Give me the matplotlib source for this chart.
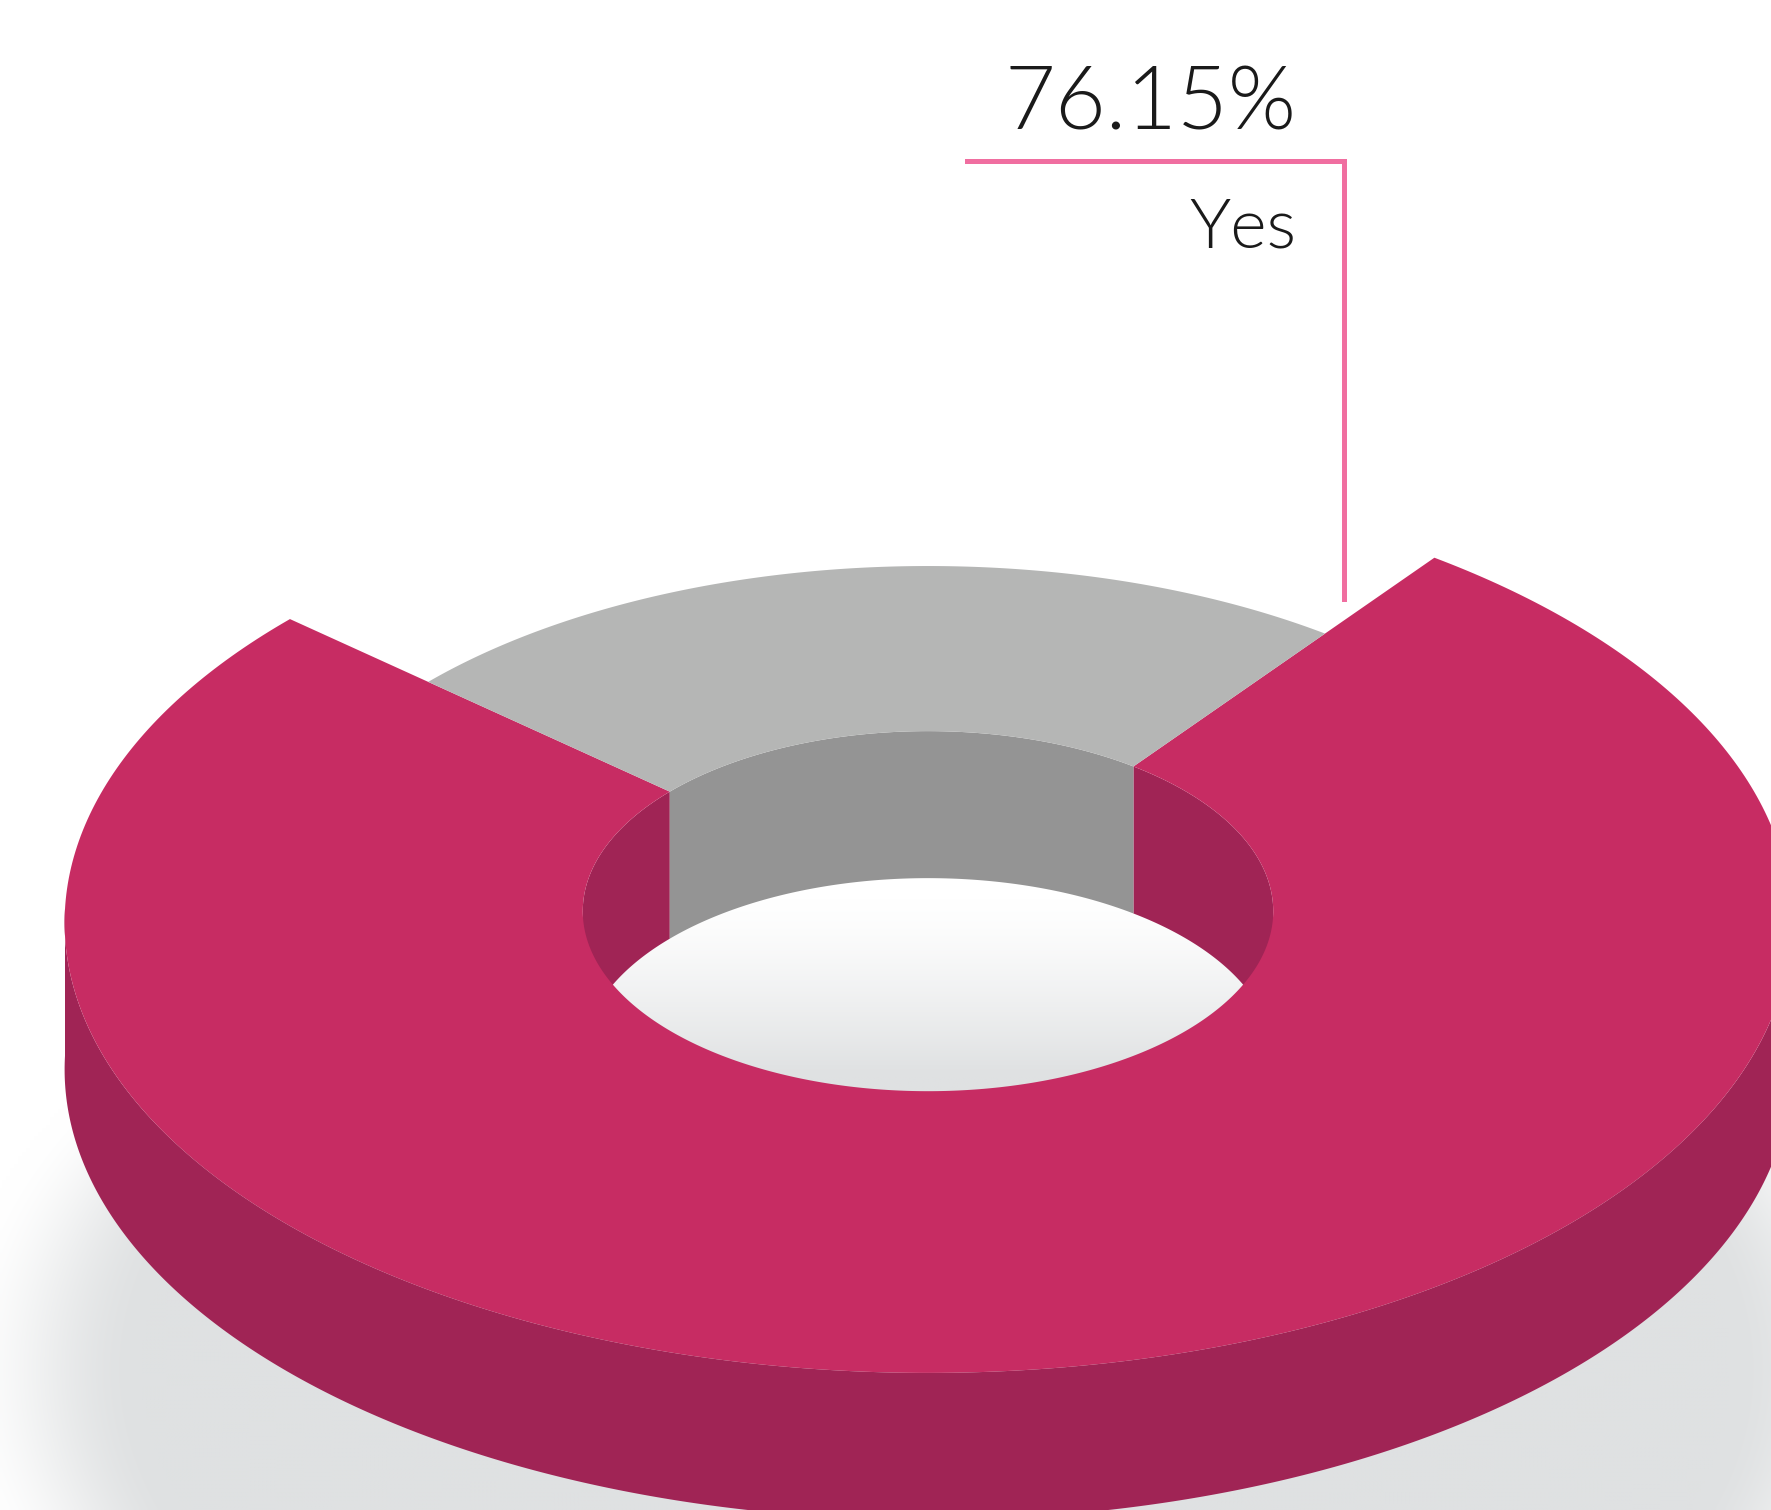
import numpy as np
import matplotlib.pyplot as plt
from matplotlib.patches import Polygon

# data
labels = ['Yes', 'No']
shares = [76.15, 23.85]

top_colors = ['#c72c63', '#b5b6b5']
side_colors = ['#a02455', '#949494']

# canvas / view settings (pixels)
W, H = 1771, 1510
cx, cy = 928, 909
half_w, half_h = 863, 450
persp = 0.03
depth = 147
r_inner = 0.40
r_outer = [1.0, 0.78]
gap_center = 96.0


def proj(r, deg, drop=0.0):
    t = np.radians(deg)
    w = 1 + persp * r * np.sin(t)
    return cx + half_w * r * np.cos(t) / w, cy - half_h * r * np.sin(t) / w + drop


def arc(r, a0, a1, drop=0.0, n=400):
    th = np.linspace(a0, a1, n)
    x, y = proj(r, th, drop)
    return np.column_stack([x, y])


def overlap(a0, a1, lo, hi):
    out = []
    for off in (-360, 0, 360):
        s, e = max(a0 + off, lo), min(a1 + off, hi)
        if s < e:
            out.append((s, e))
    return out


spans = [s / sum(shares) * 360 for s in shares]
no_start = gap_center - spans[1] / 2
angles = [(no_start + spans[1], no_start + 360), (no_start, no_start + spans[1])]

fig = plt.figure(figsize=(W / 100, H / 100), dpi=100)
ax = fig.add_axes([0, 0, 1, 1])

# soft floor shadow
yy, xx = np.mgrid[0:H:4, 0:W:4]
d = np.sqrt(((xx - 935) / 960.0) ** 2 + ((yy - 1370) / 540.0) ** 2)
a = np.clip((1.03 - d) / 0.2, 0, 1)
a = a * a * (3 - 2 * a)
shade = np.array([223, 225, 226]) / 255.0
rgb = 1 - a[..., None] * (1 - shade)
ax.imshow(rgb, extent=[0, W, H, 0], interpolation='bilinear', zorder=0)

# outer wall, front half
for i, (a0, a1) in enumerate(angles):
    for s, e in overlap(a0, a1, 180, 360):
        pts = np.vstack([arc(r_outer[i], s, e), arc(r_outer[i], e, s, drop=depth)])
        ax.add_patch(Polygon(pts, closed=True, fc=side_colors[i], ec='none', zorder=1))

# floor seen through the hole
hole = arc(r_inner, 0, 360)
hx0, hx1 = hole[:, 0].min(), hole[:, 0].max()
hy0, hy1 = hole[:, 1].min(), hole[:, 1].max()
gy = np.linspace(hy0, hy1, 200)[:, None] * np.ones((1, 50))
t = np.clip((gy - 900) / 175.0, 0, 1) ** 1.3
grad = 1 - t[..., None] * (1 - shade)
im = ax.imshow(grad, extent=[hx0, hx1, hy1, hy0], interpolation='bilinear', zorder=2)
clip = Polygon(hole, closed=True, fc='none', ec='none')
ax.add_patch(clip)
im.set_clip_path(clip)

# inner wall, back half
for i, (a0, a1) in enumerate(angles):
    for s, e in overlap(a0, a1, 0, 180):
        pts = np.vstack([arc(r_inner, s, e), arc(r_inner, e, s, drop=depth)])
        ax.add_patch(Polygon(pts, closed=True, fc=side_colors[i], ec='none', zorder=3))

# top faces
for i, (a0, a1) in enumerate(angles):
    pts = np.vstack([arc(r_outer[i], a0, a1), arc(r_inner, a1, a0)])
    ax.add_patch(Polygon(pts, closed=True, fc=top_colors[i], ec='none', zorder=4))

# label with leader
ax.plot([967, 1344, 1344], [161, 161, 599], color='#f06ea0', lw=3.6,
        solid_joinstyle='miter', zorder=5)
ax.text(1297, 130, f"{shares[0]:.2f}%", ha='right', va='baseline', fontsize=63,
        family='Lato', weight=300, color='#1a1a1a', zorder=6)
ax.text(1296, 248, labels[0], ha='right', va='baseline', fontsize=50,
        family='Lato', weight=300, color='#1a1a1a', zorder=6)

ax.set_xlim(0, W)
ax.set_ylim(H, 0)
ax.axis('off')
fig.savefig('out.png', dpi=100)
